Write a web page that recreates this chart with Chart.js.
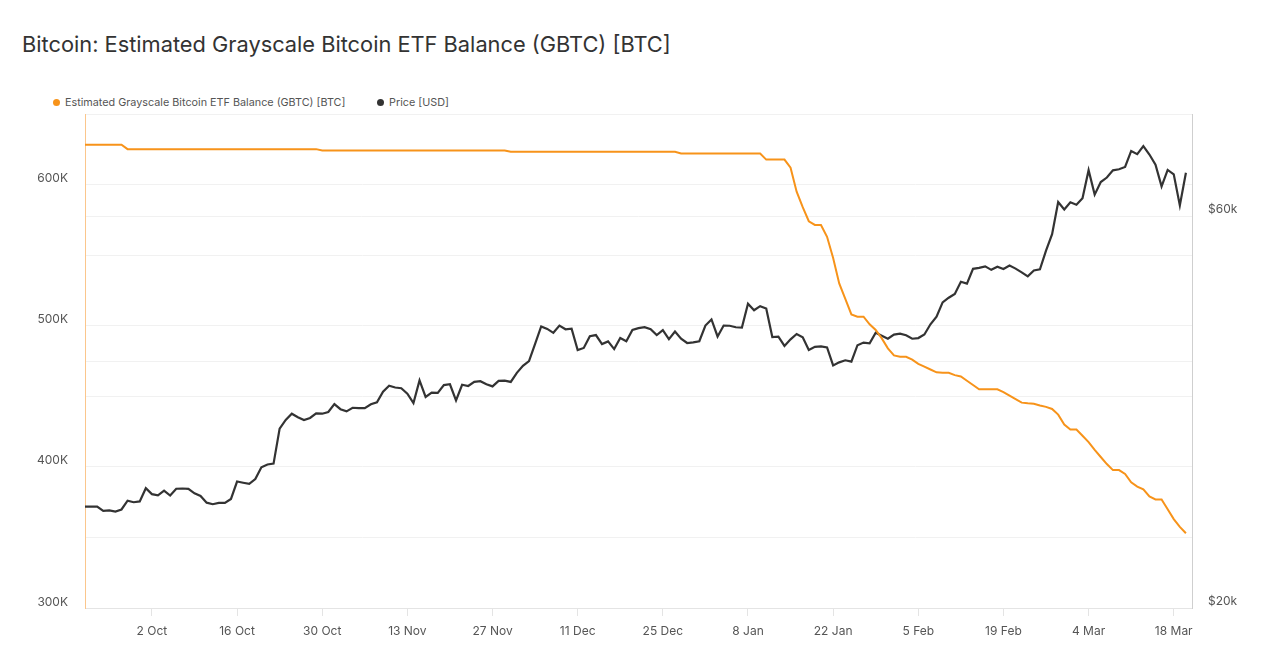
<!DOCTYPE html>
<html>
<head>
<meta charset="utf-8">
<title>GBTC balance</title>
<script src="https://cdn.jsdelivr.net/npm/chart.js@4.4.1/dist/chart.umd.min.js"></script>
<style>
    body { margin: 0; background: #fff; font-family: Inter, "Noto Sans", sans-serif; }
    #title { position: absolute; left: 22px; top: 31px; font-size: 21.8px; line-height: 26px; color: #333; }
    .legend-item { position: absolute; top: 96px; font-size: 10.8px; line-height: 14px; color: #555; white-space: nowrap; }
    .legend-item .dot { display: inline-block; width: 7px; height: 7px; border-radius: 50%; margin-right: 5px; vertical-align: 0px; }
    #wrap { position: absolute; left: 0; top: 0; width: 1280px; height: 662px; }
</style>
</head>
<body>
<div id="title">Bitcoin: Estimated Grayscale Bitcoin ETF Balance (GBTC) [BTC]</div>
<div class="legend-item" style="left:53px"><span class="dot" style="background:#f7931a"></span>Estimated Grayscale Bitcoin ETF Balance (GBTC) [BTC]</div>
<div class="legend-item" style="left:377px"><span class="dot" style="background:#333"></span>Price [USD]</div>
<div id="wrap"><canvas id="linechart"></canvas></div>
<script>
// daily values, 21 Sep 2023 -> 20 Mar 2024
const startDate = [2023, 8, 21];
const dayCount = 183; // one empty slot after the last point
const monthNames = ['Jan', 'Feb', 'Mar', 'Apr', 'May', 'Jun', 'Jul', 'Aug', 'Sep', 'Oct', 'Nov', 'Dec'];
const tickLabels = ['2 Oct', '16 Oct', '30 Oct', '13 Nov', '27 Nov', '11 Dec', '25 Dec', '8 Jan', '22 Jan', '5 Feb', '19 Feb', '4 Mar', '18 Mar'];

const gbtcBalance = [
    628200, 628200, 628200, 628200, 628200, 628200, 628200, 625100, 625100, 625100,
    625100, 625100, 625100, 625100, 625100, 625100, 625100, 625100, 625100, 625100,
    625100, 625100, 625100, 625100, 625100, 625100, 625100, 625100, 625100, 625100,
    625100, 625100, 625100, 625100, 625100, 625100, 625100, 625100, 625100, 624100,
    624100, 624100, 624100, 624100, 624100, 624100, 624100, 624100, 624100, 624100,
    624100, 624100, 624100, 624100, 624100, 624100, 624100, 624100, 624100, 624100,
    624100, 624100, 624100, 624100, 624100, 624100, 624100, 624100, 624100, 624100,
    623200, 623200, 623200, 623200, 623200, 623200, 623200, 623200, 623200, 623200,
    623200, 623200, 623200, 623200, 623200, 623200, 623200, 623200, 623200, 623200,
    623200, 623200, 623200, 623200, 623200, 623200, 623200, 623200, 622000, 622000,
    622000, 622000, 622000, 622000, 622000, 622000, 622000, 622000, 622000, 622000,
    622000, 622000, 617700, 617700, 617700, 617700, 612000, 595000, 584000, 574000,
    571400, 571400, 563000, 548000, 530000, 519000, 508000, 506400, 506400, 501000,
    497000, 491000, 484000, 479000, 478000, 478000, 476000, 473000, 471000, 469000,
    467000, 466700, 466700, 465000, 464000, 461000, 458000, 455000, 454900, 454900,
    454900, 453000, 450500, 448000, 445500, 445000, 444700, 443500, 442500, 441000,
    437000, 430000, 426500, 426500, 422000, 417500, 412000, 407000, 402000, 397700,
    397700, 395000, 389000, 386000, 384000, 379000, 376900, 376900, 370000, 363000,
    357500, 353000
];

const btcPrice = [
    26580, 26580, 26580, 26260, 26300, 26220, 26370, 27030, 26910, 26970,
    27990, 27530, 27430, 27800, 27420, 27950, 27970, 27940, 27590, 27390,
    26880, 26760, 26860, 26860, 27160, 28520, 28420, 28330, 28720, 29680,
    29920, 29990, 33090, 33900, 34500, 34160, 33900, 34090, 34540, 34500,
    34670, 35440, 34940, 34730, 35080, 35050, 35040, 35420, 35630, 36700,
    37310, 37130, 37060, 36500, 35540, 37880, 36160, 36600, 36580, 37390,
    37470, 35810, 37420, 37290, 37720, 37800, 37480, 37250, 37830, 37860,
    37720, 38690, 39470, 39980, 41980, 44080, 43770, 43290, 44170, 43720,
    43790, 41250, 41490, 42890, 43020, 41940, 42260, 41360, 42660, 42270,
    43650, 43860, 43990, 43740, 43020, 43610, 42520, 43440, 42580, 42070,
    42140, 42280, 44180, 44950, 42850, 44180, 44160, 43970, 43930, 46970,
    46120, 46660, 46340, 42780, 42840, 41730, 42510, 43150, 42740, 41260,
    41620, 41670, 41550, 39510, 39850, 40080, 39930, 41810, 42120, 42030,
    43300, 42940, 42580, 43080, 43190, 43000, 42580, 42660, 43090, 44340,
    45300, 47150, 47770, 48290, 49960, 49700, 51810, 51940, 52160, 51660,
    52120, 51780, 52280, 51840, 51300, 50730, 51570, 51730, 54520, 57090,
    62500, 61200, 62440, 62030, 63170, 68330, 63800, 66100, 66930, 68300,
    68500, 68960, 72120, 71480, 73100, 71400, 69400, 65300, 68390, 67550,
    61900, 67850
];

const priceTicks = [20000, 40000, 60000, 80000];
const priceTickLabels = { 20000: '$20k', 60000: '$60k' };

const days = [];
const first = Date.UTC(startDate[0], startDate[1], startDate[2]);
for (let i = 0; i < dayCount; i++) {
    const d = new Date(first + i * 86400000);
    days.push(d.getUTCDate() + ' ' + monthNames[d.getUTCMonth()]);
}

Chart.defaults.font.family = 'Inter, "Noto Sans", sans-serif';
Chart.defaults.color = '#555';

const ctx = document.getElementById('linechart').getContext('2d');
new Chart(ctx, {
    type: 'line',
    data: {
        labels: days,
        datasets: [{
            label: 'Estimated Grayscale Bitcoin ETF Balance (GBTC) [BTC]',
            data: gbtcBalance,
            yAxisID: 'y',
            borderColor: '#f7931a',
            borderWidth: 2,
            pointRadius: 0,
            tension: 0
        }, {
            label: 'Price [USD]',
            data: btcPrice,
            yAxisID: 'y1',
            borderColor: '#333333',
            borderWidth: 2.2,
            pointRadius: 0,
            tension: 0
        }]
    },
    options: {
        responsive: true,
        maintainAspectRatio: false,
        animation: false,
        layout: {
            padding: { top: 114, left: 0, right: 0, bottom: 0 }
        },
        plugins: {
            legend: { display: false },
            tooltip: { enabled: false }
        },
        scales: {
            x: {
                type: 'category',
                offset: false,
                grid: { drawOnChartArea: false, drawTicks: true, tickLength: 8, color: '#e4e4e4' },
                border: { color: '#e4e4e4' },
                ticks: {
                    autoSkip: false,
                    maxRotation: 0,
                    padding: 8,
                    font: { size: 12 },
                    callback(value) {
                        const label = this.getLabelForValue(value);
                        return tickLabels.includes(label) ? label : null;
                    }
                },
                afterFit(scale) { scale.height = 54; }
            },
            y: {
                position: 'left',
                min: 300000,
                max: 650000,
                grid: { color: '#f1f1f1', drawTicks: false },
                border: { color: '#fbc68c' },
                ticks: {
                    stepSize: 50000,
                    padding: 17,
                    labelOffset: -6,
                    font: { size: 12 },
                    callback(value) {
                        return value % 100000 === 0 ? (value / 1000) + 'K' : '';
                    }
                },
                afterFit(scale) { scale.width = 85; }
            },
            y1: {
                type: 'logarithmic',
                position: 'right',
                min: 20000,
                max: 80000,
                grid: { color: '#f1f1f1', drawTicks: false },
                border: { color: '#cfcfcf' },
                afterBuildTicks(scale) {
                    scale.ticks = priceTicks.map(v => ({ value: v }));
                },
                ticks: {
                    padding: 16,
                    labelOffset: -7,
                    font: { size: 12 },
                    callback(value) {
                        return priceTickLabels[value] || '';
                    }
                },
                afterFit(scale) { scale.width = 88; }
            }
        }
    }
});
</script>
</body>
</html>
